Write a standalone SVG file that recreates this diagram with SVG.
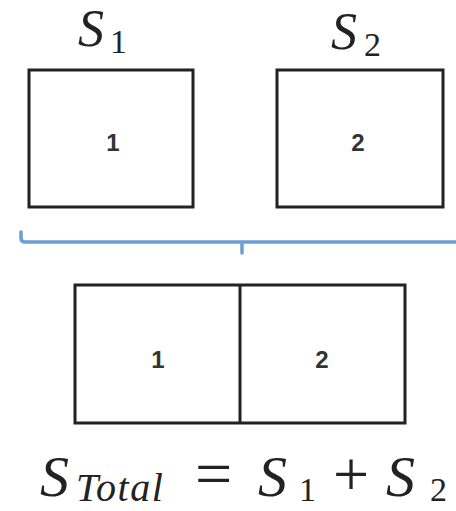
<svg xmlns="http://www.w3.org/2000/svg" width="456" height="511" viewBox="0 0 456 511">
<style>
.box{fill:#fff;stroke:#222;stroke-width:3}
.num{font-family:"Liberation Sans",Arial,sans-serif;font-weight:bold;font-size:24px;fill:#333;text-anchor:middle}
.f{font-family:"Liberation Serif","Times New Roman",serif;fill:#222}
.i{font-style:italic}
.brace{fill:none;stroke:#6a9fd4;stroke-width:3.5;stroke-linecap:round;stroke-linejoin:round}
</style>
<rect width="456" height="511" fill="#fff"/>
<g id="s1">
<rect class="box" x="29" y="70" width="164" height="137"/>
<text class="num" x="113" y="151">1</text>
<text class="f i" font-size="52" x="78" y="46">S</text>
<text class="f" font-size="34" x="110" y="53">1</text>
</g>
<g id="s2">
<rect class="box" x="277" y="70" width="166" height="137"/>
<text class="num" x="358" y="151">2</text>
<text class="f i" font-size="52" x="331" y="49">S</text>
<text class="f" font-size="34" x="364" y="56">2</text>
</g>
<g id="connectors">
<path class="brace" d="M21 232 V238 Q21 242 25 242 H460 M242 242 V253"/>
</g>
<g id="total">
<rect class="box" x="75" y="285" width="330" height="138"/>
<line x1="240" y1="285" x2="240" y2="423" stroke="#222" stroke-width="3"/>
<text class="num" x="158" y="368">1</text>
<text class="num" x="322" y="368">2</text>
</g>
<g id="formula">
<text class="f i" font-size="58" x="40" y="496">S</text>
<text class="f i" font-size="40" x="76" y="501" letter-spacing="1.5">Total</text>
<text class="f" font-size="66" x="195" y="496">=</text>
<text class="f i" font-size="58" x="258" y="496">S</text>
<text class="f" font-size="34" x="299" y="501">1</text>
<text class="f" font-size="64" x="333" y="496">+</text>
<text class="f i" font-size="58" x="386" y="496">S</text>
<text class="f" font-size="34" x="430" y="501">2</text>
</g>
</svg>
